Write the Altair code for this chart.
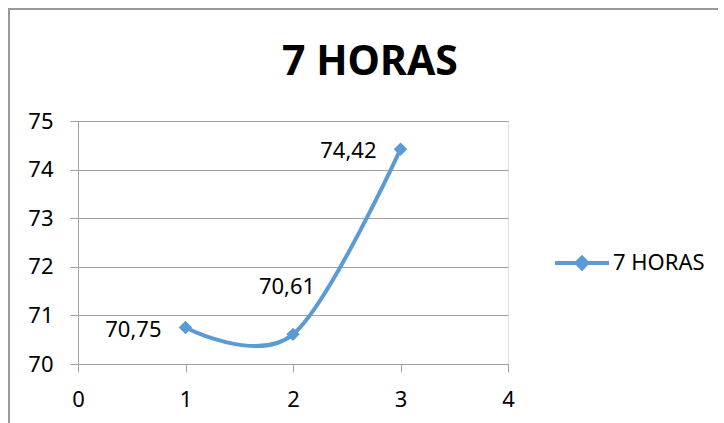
import altair as alt
import pandas as pd

# Series values
series_name = "7 HORAS"
x_values = [1, 2, 3]
y_values = [70.75, 70.61, 74.42]
value_labels = ["70,75", "70,61", "74,42"]

# Axis ticks
x_ticks = [0, 1, 2, 3, 4]
y_ticks = [70, 71, 72, 73, 74, 75]

BLUE = "#5B9BD5"
GRAY = "#A0A0A0"
FONT = "Noto Sans"

df = pd.DataFrame({
    "x": x_values,
    "y": y_values,
    "label": value_labels,
    "serie": [series_name] * len(x_values),
})
one_row = pd.DataFrame({"k": [0]})

x_enc = alt.X("x:Q", scale=alt.Scale(domain=[x_ticks[0], x_ticks[-1]], nice=False),
              axis=alt.Axis(values=x_ticks, grid=False, title=None, format="d",
                            tickSize=8, labelPadding=17, domainColor=GRAY,
                            tickColor=GRAY, labelFontSize=22, labelFont=FONT,
                            labelColor="black", labelFlush=False))
y_enc = alt.Y("y:Q", scale=alt.Scale(domain=[y_ticks[0], y_ticks[-1]], nice=False, zero=False),
              axis=alt.Axis(values=y_ticks, grid=True, gridColor=GRAY, title=None,
                            tickSize=8, labelPadding=17, domainColor=GRAY,
                            tickColor=GRAY, labelFontSize=22, labelFont=FONT,
                            labelColor="black", labelFlush=False))

# Legend symbol: short line with a diamond in the middle
legend_path = ("M-1,0L1,0"
               "M0,-0.2L0.2,0L0,0.2L-0.2,0Z"
               "M0,-0.1L0.1,0L0,0.1L-0.1,0Z")

color_enc = alt.Color("serie:N",
                      scale=alt.Scale(domain=[series_name], range=[BLUE]),
                      legend=alt.Legend(title=None, orient="none",
                                        legendX=475, legendY=113,
                                        symbolType=legend_path, symbolSize=2916,
                                        symbolStrokeWidth=4, labelFontSize=22,
                                        labelFont=FONT, labelColor="black",
                                        labelOffset=2, padding=0))

# Outer chart frame (left and top edges) as thin filled bars
frame_top = alt.Chart(one_row).mark_rect(
    color="#9A9A9A", x2=640, y2=-111
).encode(x=alt.value(-70), y=alt.value(-113))
frame_left = alt.Chart(one_row).mark_rect(
    color="#9A9A9A", x2=-68, y2=310
).encode(x=alt.value(-70), y=alt.value(-113))

# Chart heading
heading = alt.Chart(one_row).mark_text(
    text=series_name, font=FONT, fontSize=41, fontWeight="bold", color="black",
    align="center", baseline="alphabetic"
).encode(x=alt.value(292), y=alt.value(-46))

line = alt.Chart(df).mark_line(
    interpolate="cardinal", strokeWidth=4
).encode(x=x_enc, y=y_enc, color=color_enc)

points = alt.Chart(df).mark_point(
    shape="diamond", filled=True, size=180, opacity=1, color=BLUE
).encode(x="x:Q", y="y:Q")

labels_left = alt.Chart(df).transform_filter(alt.datum.x != 2).mark_text(
    align="right", baseline="middle", dx=-24, dy=2, fontSize=22, font=FONT, color="black"
).encode(x="x:Q", y="y:Q", text="label:N")

labels_above = alt.Chart(df).transform_filter(alt.datum.x == 2).mark_text(
    align="center", baseline="middle", dx=-6, dy=-47, fontSize=22, font=FONT, color="black"
).encode(x="x:Q", y="y:Q", text="label:N")

chart = alt.layer(frame_top, frame_left, heading, line, points,
                  labels_left, labels_above).properties(
    width=430,
    height=243,
    autosize=alt.AutoSizeParams(type="none"),
    padding={"left": 78, "top": 121, "right": 216, "bottom": 59},
).configure_view(stroke=None).configure(background="white")

chart.save("out.html", embed_options={"renderer": "svg", "actions": False})
